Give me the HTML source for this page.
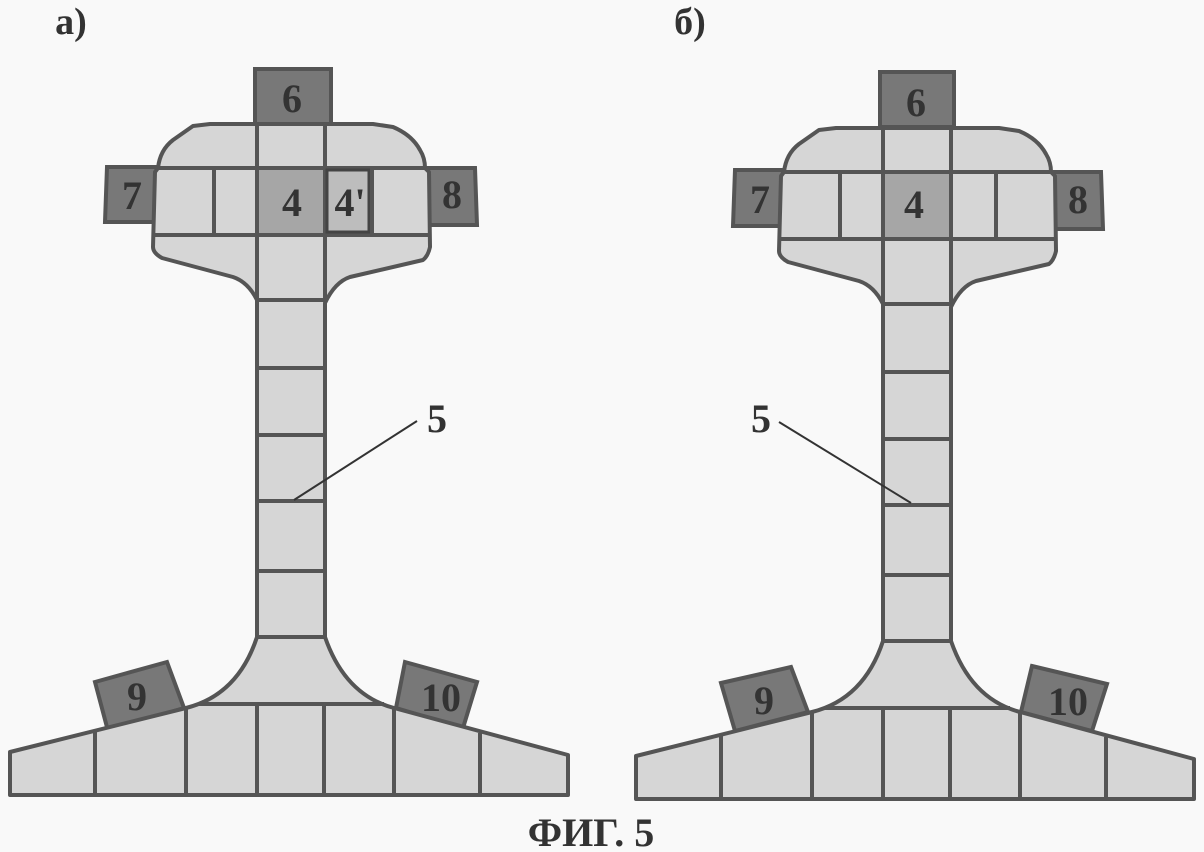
<!DOCTYPE html>
<html><head><meta charset="utf-8"><style>
html,body{margin:0;padding:0;background:#f9f9f9}
svg{display:block}
text{font-family:"Liberation Serif","Noto Serif CJK SC",serif;font-weight:bold;fill:#333;text-anchor:middle}
.t{font-size:40px}
.b{fill:#787878;stroke:#555;stroke-width:4}
.l{fill:none;stroke:#555;stroke-width:4}
</style></head><body>
<svg width="1204" height="852" viewBox="0 0 1204 852" xmlns="http://www.w3.org/2000/svg">
<defs>
<g id="rail">
<path fill="#d6d6d6" stroke="#555" stroke-width="4" stroke-linejoin="round" d="M193 126L210 124H373L393 127Q412 135 420 150Q425 158 425 168L429 172L430 247Q428 256 423 260L350 277Q335 282 325 303V637Q345 695 394 708L568 755V795H10V752L186 708Q238 695 257 637V300Q248 282 233 277L162 258Q153 253 153 247L155 172L158 168Q160 150 173 140Z"/>
<rect x="257" y="168" width="68" height="67" fill="#a6a6a6"/>
<path class="l" d="M158 168H425M153 235H430M257 125V300M325 125V300M214 168V235M257 300H325M257 368H325M257 435H325M257 501H325M257 571H325M257 637H325M198 704H384M95 730V795M186 708V795M257 704V795M324 704V795M394 708V795M480 733V795"/>
</g>
</defs>
<path class="b" d="M255 69H331V125H255Z"/>
<path class="b" d="M107 167H157L154 222H105Z"/>
<path class="b" d="M427 168H475L477 225H428Z"/>
<path class="b" d="M95 682L167 662L184 708L108 731Z"/>
<path class="b" d="M405 662L477 682L463 728L396 708Z"/>
<path class="b" d="M880 72H954V127H880Z"/>
<path class="b" d="M735 170H783L781 226H733Z"/>
<path class="b" d="M1053 172H1101L1103 229H1054Z"/>
<path class="b" d="M721 683L791 667L808 712L735 731Z"/>
<path class="b" d="M1032 666L1107 684L1092 731L1021 712Z"/>
<use href="#rail"/>
<rect x="327" y="170" width="42" height="62" fill="#bdbdbd" stroke="#444" stroke-width="3"/>
<path class="l" d="M372 168V235"/>
<use href="#rail" transform="translate(626 4)"/>
<path class="l" d="M996 172V239"/>
<text class="t" x="292" y="112">6</text>
<text class="t" x="132" y="209">7</text>
<text class="t" x="452" y="208">8</text>
<text class="t" x="292" y="216">4</text>
<text class="t" x="350" y="216">4'</text>
<text class="t" x="137" y="710">9</text>
<text class="t" x="441" y="711">10</text>
<text class="t" x="916" y="116">6</text>
<text class="t" x="760" y="213">7</text>
<text class="t" x="1078" y="213">8</text>
<text class="t" x="914" y="218">4</text>
<text class="t" x="764" y="714">9</text>
<text class="t" x="1068" y="715">10</text>
<path d="M294 500L417 421" fill="none" stroke="#333" stroke-width="2"/>
<path d="M911 503L779 422" fill="none" stroke="#333" stroke-width="2"/>
<text class="t" x="437" y="432">5</text>
<text class="t" x="761" y="432">5</text>
<text x="71" y="34" style="font-size:38px">а)</text>
<text x="690" y="34" style="font-size:38px">б)</text>
<text x="591" y="846" style="font-size:40px">ФИГ. 5</text>
</svg>
</body></html>
